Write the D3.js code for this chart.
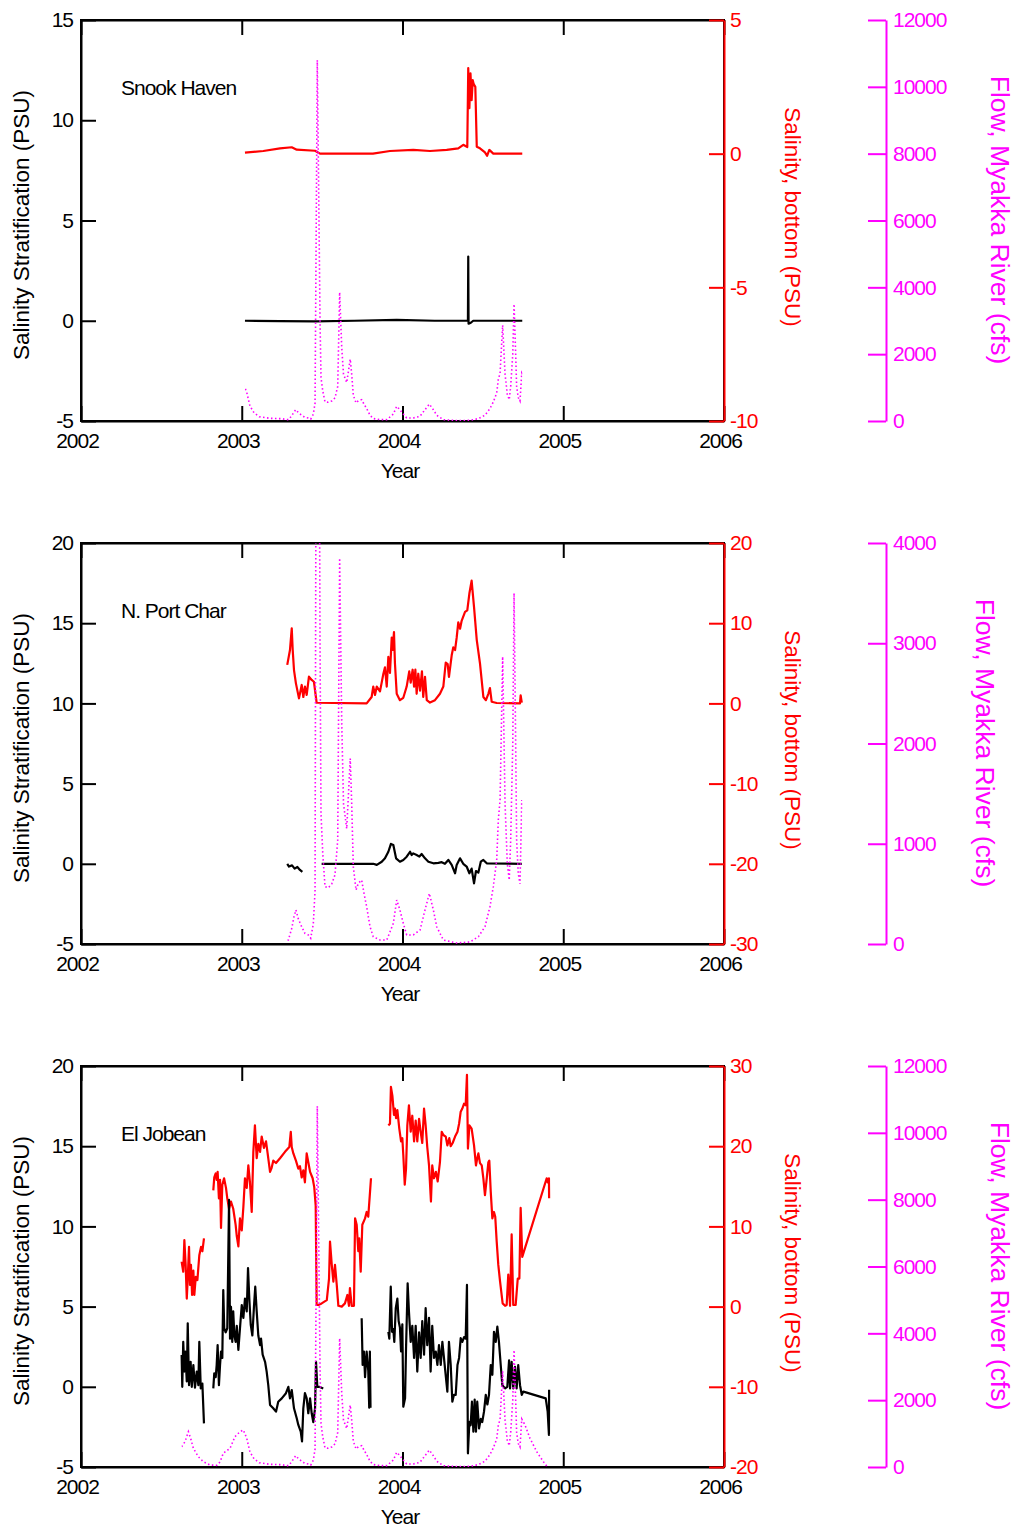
<!DOCTYPE html>
<html><head><meta charset="utf-8">
<script src="https://cdn.jsdelivr.net/npm/d3@7"></script>
<style>body{margin:0;background:#fff}</style>
</head><body><svg id="c" width="1017" height="1527"></svg>
<script>
// ---------- DATA ----------
const xTicks = [2002, 2003, 2004, 2005, 2006];
const stations = ["Snook Haven", "N. Port Char", "El Jobean"];
const stratTicks = [[-5, 0, 5, 10, 15], [-5, 0, 5, 10, 15, 20], [-5, 0, 5, 10, 15, 20]];
const bottomTicks = [[-10, -5, 0, 5], [-30, -20, -10, 0, 10, 20], [-20, -10, 0, 10, 20, 30]];
const flowTicks = [[0, 2000, 4000, 6000, 8000, 10000, 12000], [0, 1000, 2000, 3000, 4000], [0, 2000, 4000, 6000, 8000, 10000, 12000]];
const stationRange = [[2003.020, 2004.745], [2003.283, 2004.745], [2002.626, 2004.912]];

// Myakka River flow (cfs), [decimal year, cfs]
const flowSeries = [[2002.626,608],[2002.647,757],[2002.668,1056],[2002.682,860],[2002.699,560],[2002.730,308],[2002.761,159],[2002.802,60],[2002.844,50],[2002.865,150],[2002.885,410],[2002.927,560],[2002.958,907],[2002.989,1056],[2003.010,1107],[2003.031,858],[2003.051,450],[2003.076,248],[2003.109,129],[2003.145,100],[2003.176,80],[2003.249,70],[2003.280,40],[2003.290,40],[2003.311,156],[2003.325,272],[2003.337,339],[2003.352,250],[2003.373,172],[2003.393,106],[2003.414,90],[2003.429,57],[2003.445,200],[2003.456,530],[2003.470,10800],[2003.487,3000],[2003.493,1300],[2003.504,900],[2003.518,572],[2003.538,560],[2003.560,600],[2003.580,690],[2003.597,1037],[2003.609,3850],[2003.622,2200],[2003.633,1400],[2003.653,1150],[2003.675,1850],[2003.684,1400],[2003.694,771],[2003.711,539],[2003.725,605],[2003.746,638],[2003.760,510],[2003.777,372],[2003.798,172],[2003.818,73],[2003.860,40],[2003.902,40],[2003.943,206],[2003.964,439],[2003.984,339],[2004.005,206],[2004.026,90],[2004.067,90],[2004.109,140],[2004.140,339],[2004.167,505],[2004.192,339],[2004.213,172],[2004.254,40],[2004.337,10],[2004.420,20],[2004.472,73],[2004.513,172],[2004.544,372],[2004.565,572],[2004.586,838],[2004.596,1237],[2004.607,1436],[2004.623,2866],[2004.638,1400],[2004.652,800],[2004.664,638],[2004.673,1037],[2004.686,2000],[2004.694,3500],[2004.704,2000],[2004.710,1037],[2004.720,705],[2004.731,600],[2004.742,1436],[2004.762,1257],[2004.793,858],[2004.835,458],[2004.876,160],[2004.897,30]];

// Snook Haven
const snookBottom = [[2003.020,0.04],[2003.134,0.1],[2003.238,0.2],[2003.311,0.24],[2003.342,0.15],[2003.456,0.11],[2003.487,0.0],[2003.816,0.0],[2003.922,0.1],[2004.067,0.14],[2004.171,0.1],[2004.275,0.14],[2004.347,0.2],[2004.378,0.33],[2004.403,0.25],[2004.409,3.2],[2004.416,1.7],[2004.423,3.0],[2004.430,2.0],[2004.437,2.75],[2004.443,2.6],[2004.453,2.5],[2004.462,0.26],[2004.482,0.2],[2004.513,0.05],[2004.526,-0.08],[2004.540,0.14],[2004.565,0.0],[2004.745,0.0]];
const snookStrat = [[2003.020,0.0],[2003.238,-0.02],[2003.456,-0.03],[2003.700,0.0],[2003.964,0.04],[2004.200,0.0],[2004.407,0.0],[2004.409,3.2],[2004.411,-0.15],[2004.425,-0.1],[2004.440,0.0],[2004.745,0.0]];

// N. Port Charlotte
const portBottom = [[2003.283,4.8],[2003.300,6.66],[2003.311,9.36],[2003.317,6.66],[2003.325,4.16],[2003.337,2.5],[2003.356,0.63],[2003.373,2.3],[2003.383,0.8],[2003.393,2.1],[2003.404,1.05],[2003.418,3.33],[2003.435,2.92],[2003.449,2.7],[2003.466,0.08],[2003.777,0.0],[2003.808,0.8],[2003.818,2.1],[2003.829,1.05],[2003.840,2.1],[2003.860,1.5],[2003.881,3.7],[2003.891,4.5],[2003.902,2.1],[2003.912,5.8],[2003.922,3.8],[2003.933,8.2],[2003.939,6.66],[2003.947,8.9],[2003.953,5.0],[2003.964,1.2],[2003.984,0.4],[2004.005,0.7],[2004.026,2.1],[2004.042,4.0],[2004.051,2.6],[2004.063,4.2],[2004.072,2.1],[2004.080,4.2],[2004.088,1.2],[2004.098,3.7],[2004.109,1.6],[2004.121,4.0],[2004.129,0.8],[2004.140,3.3],[2004.151,0.4],[2004.171,0.1],[2004.202,0.4],[2004.233,1.2],[2004.254,2.1],[2004.269,5.1],[2004.281,4.9],[2004.289,3.3],[2004.306,6.0],[2004.316,7.0],[2004.327,6.66],[2004.337,8.2],[2004.347,10.1],[2004.358,9.3],[2004.368,10.3],[2004.389,11.4],[2004.403,11.6],[2004.416,13.7],[2004.430,15.3],[2004.445,12.0],[2004.462,7.9],[2004.482,5.0],[2004.503,0.8],[2004.519,0.4],[2004.534,1.2],[2004.544,1.9],[2004.555,0.2],[2004.586,0.05],[2004.731,0.0],[2004.735,1.0],[2004.742,0.1]];
const portStrat = [[2003.283,0.0],[2003.294,-0.17],[2003.313,-0.1],[2003.329,-0.3],[2003.346,-0.2],[2003.362,-0.38],[2003.377,-0.5],[2003.380,null],[2003.497,0.0],[2003.818,0.0],[2003.840,-0.07],[2003.871,0.13],[2003.891,0.34],[2003.912,0.75],[2003.928,1.24],[2003.943,1.17],[2003.960,0.34],[2003.984,0.13],[2004.005,0.24],[2004.026,0.44],[2004.047,0.75],[2004.057,0.55],[2004.067,0.65],[2004.088,0.55],[2004.105,0.45],[2004.119,0.61],[2004.140,0.34],[2004.161,0.13],[2004.192,0.03],[2004.223,0.06],[2004.244,0.1],[2004.264,0.0],[2004.285,0.24],[2004.306,-0.07],[2004.327,-0.59],[2004.337,-0.07],[2004.358,0.34],[2004.378,0.0],[2004.399,-0.17],[2004.416,-0.59],[2004.430,-0.3],[2004.445,-1.22],[2004.457,-0.45],[2004.472,-0.55],[2004.487,0.13],[2004.503,0.24],[2004.524,0.03],[2004.742,0.0]];

// El Jobean
const jobeanBottom = [[2002.626,5.6],[2002.636,4.35],[2002.643,8.3],[2002.651,5.2],[2002.658,1.0],[2002.664,3.5],[2002.672,7.45],[2002.678,2.7],[2002.684,5.2],[2002.691,1.45],[2002.699,4.5],[2002.705,1.45],[2002.714,3.7],[2002.724,3.3],[2002.736,6.4],[2002.747,7.45],[2002.755,6.9],[2002.765,8.5],[2002.790,null],
[2002.823,14.5],[2002.829,16.1],[2002.838,16.6],[2002.844,15.8],[2002.850,16.8],[2002.858,13.5],[2002.865,15.8],[2002.871,9.8],[2002.879,15.2],[2002.890,16.0],[2002.902,14.8],[2002.910,13.5],[2002.921,12.2],[2002.933,13.1],[2002.947,12.2],[2002.962,10.2],[2002.969,8.8],[2002.979,7.5],[2002.989,11.0],[2003.000,9.5],[2003.010,12.4],[2003.020,16.0],[2003.031,14.8],[2003.041,17.6],[2003.051,15.5],[2003.062,11.8],[2003.072,19.3],[2003.082,22.6],[2003.093,18.5],[2003.103,20.3],[2003.114,19.3],[2003.124,21.2],[2003.138,19.8],[2003.151,20.6],[2003.161,19.1],[2003.176,16.8],[2003.186,17.3],[2003.196,18.2],[2003.213,17.9],[2003.238,18.5],[2003.269,19.3],[2003.296,19.9],[2003.305,21.8],[2003.311,19.9],[2003.321,19.1],[2003.337,18.2],[2003.352,17.2],[2003.362,17.5],[2003.373,16.1],[2003.383,17.0],[2003.393,15.5],[2003.404,19.1],[2003.414,18.0],[2003.425,16.8],[2003.441,16.0],[2003.451,14.9],[2003.460,12.6],[2003.466,0.2],[2003.476,0.2],[2003.497,0.4],[2003.529,0.8],[2003.543,3.5],[2003.549,8.1],[2003.560,5.2],[2003.570,3.1],[2003.580,5.2],[2003.591,2.7],[2003.601,0.1],[2003.622,0.0],[2003.642,0.4],[2003.657,1.45],[2003.667,0.1],[2003.673,2.3],[2003.684,0.1],[2003.698,0.1],[2003.705,11.0],[2003.715,10.2],[2003.725,6.9],[2003.731,8.5],[2003.740,4.35],[2003.750,10.2],[2003.767,11.0],[2003.777,11.8],[2003.787,11.2],[2003.798,14.3],[2003.804,16.0],[2003.850,null],
[2003.912,22.6],[2003.922,22.8],[2003.928,27.4],[2003.937,26.3],[2003.947,23.9],[2003.953,24.7],[2003.960,23.5],[2003.968,24.5],[2003.980,22.2],[2003.991,20.6],[2003.999,21.0],[2004.005,18.9],[2004.014,15.2],[2004.022,17.2],[2004.030,22.6],[2004.040,25.1],[2004.051,21.8],[2004.061,23.8],[2004.072,20.6],[2004.082,23.2],[2004.092,20.6],[2004.103,23.4],[2004.113,21.8],[2004.123,20.4],[2004.134,24.7],[2004.144,22.6],[2004.154,19.9],[2004.165,17.6],[2004.177,13.1],[2004.185,17.6],[2004.196,16.0],[2004.208,16.8],[2004.219,15.6],[2004.233,18.0],[2004.244,21.8],[2004.254,21.4],[2004.269,21.2],[2004.279,20.1],[2004.291,21.0],[2004.300,20.0],[2004.312,20.4],[2004.327,21.2],[2004.342,21.8],[2004.352,22.8],[2004.362,24.3],[2004.372,24.7],[2004.383,25.3],[2004.393,25.1],[2004.401,28.9],[2004.407,19.7],[2004.416,22.6],[2004.430,22.2],[2004.445,20.1],[2004.457,17.6],[2004.465,18.5],[2004.472,19.1],[2004.482,17.9],[2004.493,17.6],[2004.503,16.0],[2004.513,13.9],[2004.524,16.0],[2004.534,18.0],[2004.540,18.2],[2004.549,14.3],[2004.559,11.0],[2004.569,11.8],[2004.577,11.2],[2004.586,8.1],[2004.596,5.2],[2004.607,3.1],[2004.623,0.4],[2004.638,0.1],[2004.648,0.2],[2004.658,4.0],[2004.669,0.1],[2004.679,9.0],[2004.689,0.2],[2004.704,0.2],[2004.717,3.5],[2004.727,3.5],[2004.735,12.3],[2004.745,6.2],[2004.897,16.0],[2004.903,15.5],[2004.911,16.0],[2004.912,13.5]];
const jobeanStrat = [[2002.626,1.98],[2002.630,0.0],[2002.636,2.8],[2002.643,0.95],[2002.649,2.2],[2002.658,0.33],[2002.664,3.96],[2002.672,0.1],[2002.682,1.56],[2002.689,0.0],[2002.699,1.35],[2002.709,-0.05],[2002.720,0.95],[2002.730,0.1],[2002.736,2.8],[2002.745,-0.1],[2002.755,0.2],[2002.765,-2.28],[2002.790,null],
[2002.823,-0.1],[2002.829,0.84],[2002.838,0.6],[2002.844,1.36],[2002.850,2.6],[2002.858,0.1],[2002.865,1.36],[2002.871,2.2],[2002.879,1.8],[2002.885,6.03],[2002.891,3.65],[2002.900,3.4],[2002.910,3.65],[2002.921,11.65],[2002.927,3.0],[2002.933,4.99],[2002.941,2.8],[2002.947,4.7],[2002.954,3.2],[2002.962,2.8],[2002.969,3.8],[2002.979,2.3],[2002.989,3.65],[2003.000,5.1],[2003.010,4.3],[2003.020,5.5],[2003.031,4.7],[2003.039,7.4],[2003.047,5.5],[2003.056,3.87],[2003.066,3.2],[2003.076,5.0],[2003.084,6.24],[2003.093,4.7],[2003.103,3.2],[2003.114,2.6],[2003.120,3.0],[2003.130,2.0],[2003.145,1.56],[2003.155,0.95],[2003.165,0.1],[2003.176,-1.13],[2003.196,-1.34],[2003.213,-1.55],[2003.227,-0.93],[2003.249,-0.72],[2003.275,-0.4],[2003.290,0.0],[2003.300,-0.72],[2003.311,-0.2],[2003.325,-1.34],[2003.342,-1.96],[2003.352,-2.38],[2003.367,-2.8],[2003.375,-3.4],[2003.383,-1.34],[2003.393,-0.4],[2003.404,-0.72],[2003.414,-1.65],[2003.425,-0.72],[2003.435,-1.65],[2003.445,-2.2],[2003.456,-1.34],[2003.462,1.56],[2003.470,0.0],[2003.482,0.0],[2003.507,-0.1],[2003.600,null],
[2003.746,4.28],[2003.752,1.36],[2003.760,2.2],[2003.767,0.6],[2003.777,2.2],[2003.787,1.0],[2003.793,-1.3],[2003.797,2.2],[2003.801,-1.3],[2003.850,null],
[2003.912,3.43],[2003.918,3.0],[2003.927,6.24],[2003.935,3.43],[2003.943,3.6],[2003.949,2.8],[2003.958,4.9],[2003.968,5.5],[2003.976,4.1],[2003.984,3.7],[2003.991,2.2],[2003.999,3.9],[2004.005,-1.24],[2004.016,-0.72],[2004.022,2.4],[2004.032,6.45],[2004.040,4.7],[2004.051,2.8],[2004.061,3.8],[2004.072,1.8],[2004.082,3.8],[2004.092,0.95],[2004.103,3.4],[2004.113,1.8],[2004.123,4.1],[2004.134,2.0],[2004.144,4.9],[2004.154,2.6],[2004.165,4.3],[2004.175,0.95],[2004.185,3.8],[2004.196,1.8],[2004.207,2.2],[2004.217,1.36],[2004.227,2.6],[2004.238,1.36],[2004.248,2.8],[2004.258,1.8],[2004.269,0.7],[2004.279,-0.3],[2004.289,2.8],[2004.300,1.36],[2004.310,-0.93],[2004.320,-0.5],[2004.331,-0.5],[2004.342,1.36],[2004.352,1.8],[2004.362,3.03],[2004.372,2.8],[2004.383,3.1],[2004.393,3.0],[2004.401,6.35],[2004.407,-4.15],[2004.416,-2.18],[2004.424,-2.4],[2004.432,-0.93],[2004.441,-2.8],[2004.449,-0.8],[2004.457,-2.8],[2004.465,-0.93],[2004.476,-2.6],[2004.487,-2.0],[2004.496,-2.2],[2004.507,-1.55],[2004.518,-0.5],[2004.528,-1.1],[2004.538,-0.5],[2004.549,1.36],[2004.559,0.75],[2004.569,3.43],[2004.580,2.8],[2004.590,3.75],[2004.600,2.8],[2004.611,1.36],[2004.621,0.1],[2004.638,-0.1],[2004.652,0.0],[2004.663,1.65],[2004.669,-0.1],[2004.679,1.56],[2004.689,-0.1],[2004.700,1.24],[2004.710,-0.1],[2004.720,1.36],[2004.731,0.1],[2004.742,-0.5],[2004.752,-0.3],[2004.891,-0.72],[2004.903,-1.55],[2004.911,-3.0],[2004.912,-0.18]];

const stratSeries = [snookStrat, portStrat, jobeanStrat];
const bottomSeries = [snookBottom, portBottom, jobeanBottom];

// ---------- LAYOUT ----------
const FONT = '"Liberation Sans", Arial, Helvetica, sans-serif';
const RED = '#ff0000', MAG = '#ff00ff';
const svg = d3.select('#c');
const L = 81, R = 724, FX = 886, H = 401;
const panelTops = [20, 543, 1066];
const flowTitleX = [1000, 985, 1000];
const x = d3.scaleLinear().domain([2002, 2006]).range([L, R]);
const fmt = d => String(d); // plain hyphen-minus as in the original

function styleAxis(g, color) {
  g.selectAll('path.domain').attr('stroke', color).attr('stroke-width', 2);
  g.selectAll('.tick line').attr('stroke', color).attr('stroke-width', 2);
  g.selectAll('.tick text').attr('fill', color).attr('font-family', FONT)
    .attr('font-size', 21).attr('letter-spacing', '-1px');
  g.attr('font-family', null).attr('font-size', null);
}

panelTops.forEach((top, i) => {
  const bot = top + H;
  const yL = d3.scaleLinear().domain(d3.extent(stratTicks[i])).range([bot, top]);
  const yR = d3.scaleLinear().domain(d3.extent(bottomTicks[i])).range([bot, top]);
  const yF = d3.scaleLinear().domain(d3.extent(flowTicks[i])).range([bot, top]);
  const g = svg.append('g');

  const clipId = 'clip' + i;
  svg.append('clipPath').attr('id', clipId).append('rect')
    .attr('x', x(stationRange[i][0])).attr('y', top)
    .attr('width', x(stationRange[i][1]) - x(stationRange[i][0])).attr('height', H);
  const plotClip = 'pclip' + i;
  svg.append('clipPath').attr('id', plotClip).append('rect')
    .attr('x', L).attr('y', top).attr('width', R - L).attr('height', H);

  // frame
  g.append('rect').attr('x', L).attr('y', top).attr('width', R - L).attr('height', H)
    .attr('fill', 'none').attr('stroke', '#000').attr('stroke-width', 2);

  // x axes
  const xb = g.append('g').attr('transform', `translate(0,${bot})`)
    .call(d3.axisBottom(x).tickValues(xTicks).tickFormat(fmt)
      .tickSizeInner(-15).tickSizeOuter(0).tickPadding(12));
  styleAxis(xb, '#000');
  xb.selectAll('.tick text').attr('dx', -4);
  const xt = g.append('g').attr('transform', `translate(0,${top})`)
    .call(d3.axisTop(x).tickValues(xTicks).tickFormat('').tickSizeInner(-15).tickSizeOuter(0));
  styleAxis(xt, '#000');

  // left axis
  const al = g.append('g').attr('transform', `translate(${L},0)`)
    .call(d3.axisLeft(yL).tickValues(stratTicks[i]).tickFormat(fmt)
      .tickSizeInner(-15).tickSizeOuter(0).tickPadding(8));
  styleAxis(al, '#000');

  // data lines
  const lineL = d3.line().defined(d => d[1] !== null).x(d => x(d[0])).y(d => yL(d[1]));
  const lineR = d3.line().defined(d => d[1] !== null).x(d => x(d[0])).y(d => yR(d[1]));
  const lineF = d3.line().x(d => x(d[0])).y(d => yF(d[1]));
  g.append('path').datum(bottomSeries[i]).attr('d', lineR)
    .attr('fill', 'none').attr('stroke', RED).attr('stroke-width', 2.2).attr('stroke-linejoin', 'round')
    .attr('clip-path', `url(#${plotClip})`);
  g.append('path').datum(stratSeries[i]).attr('d', lineL)
    .attr('fill', 'none').attr('stroke', '#000').attr('stroke-width', 2.2).attr('stroke-linejoin', 'round')
    .attr('clip-path', `url(#${plotClip})`);
  g.append('g').attr('clip-path', `url(#${plotClip})`)
    .append('path').datum(flowSeries).attr('d', lineF).attr('clip-path', `url(#${clipId})`)
    .attr('fill', 'none').attr('stroke', MAG).attr('stroke-width', 1.6)
    .attr('stroke-dasharray', '1.5,2.5');

  // right (red) axis
  const ar = g.append('g').attr('transform', `translate(${R},0)`)
    .call(d3.axisRight(yR).tickValues(bottomTicks[i]).tickFormat(fmt)
      .tickSizeInner(-15).tickSizeOuter(0).tickPadding(6));
  styleAxis(ar, RED);

  // flow axis
  const af = g.append('g').attr('transform', `translate(${FX},0)`)
    .call(d3.axisRight(yF).tickValues(flowTicks[i]).tickFormat(fmt)
      .tickSizeInner(-18).tickSizeOuter(0).tickPadding(7));
  styleAxis(af, MAG);

  // texts
  g.append('text').attr('x', 121).attr('y', top + 75).text(stations[i])
    .attr('font-family', FONT).attr('font-size', 21).attr('letter-spacing', '-1px').attr('fill', '#000');
  g.append('text').attr('x', 400).attr('y', bot + 57).text('Year').attr('text-anchor', 'middle')
    .attr('font-family', FONT).attr('font-size', 21).attr('letter-spacing', '-1px').attr('fill', '#000');
  g.append('text').attr('transform', `translate(21,${top + 205}) rotate(-90)`)
    .attr('text-anchor', 'middle').attr('dominant-baseline', 'central')
    .attr('font-family', FONT).attr('font-size', 22.5).attr('fill', '#000')
    .text('Salinity Stratification (PSU)');
  g.append('text').attr('transform', `translate(792,${top + 197}) rotate(90)`)
    .attr('text-anchor', 'middle').attr('dominant-baseline', 'central')
    .attr('font-family', FONT).attr('font-size', 22.5).attr('fill', RED)
    .text('Salinity, bottom (PSU)');
  g.append('text').attr('transform', `translate(${flowTitleX[i]},${top + 200}) rotate(90)`)
    .attr('text-anchor', 'middle').attr('dominant-baseline', 'central')
    .attr('font-family', FONT).attr('font-size', 26.5).attr('fill', MAG)
    .text('Flow, Myakka River (cfs)');
});
</script></body></html>
